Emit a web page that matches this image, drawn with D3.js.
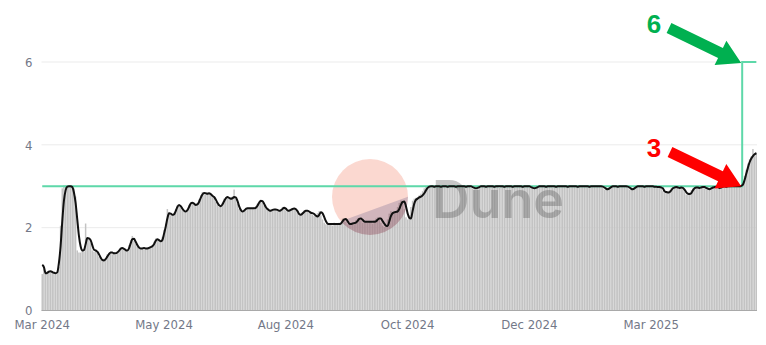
<!DOCTYPE html>
<html>
<head>
<meta charset="utf-8">
<script src="https://cdn.jsdelivr.net/npm/d3@7"></script>
<style>
  body { margin: 0; background: #fff; }
  svg { display: block; }
  .axis text { font-family: "DejaVu Sans Condensed", "Liberation Sans Narrow", sans-serif; fill: #737888; }
</style>
</head>
<body>
<svg id="chart" width="766" height="345"></svg>
<script>
// first day of the series (daily data)
const startDate = "2024-03-13";
// day the blob target moves from 3 to 6
const targetChangeDate = "2025-05-07";
const targetValues = [3, 6];
const yTicks = [0, 2, 4, 6];
const xTickEvery = 73; // label every n-th day, like the source axis

// daily average (bars)
const dailyBlobs = [
  0.88,1.00,0.90,0.95,0.96,0.94,0.95,0.90,0.88,0.90,
  1.05,2.05,2.95,3.02,3.02,3.00,3.01,3.00,3.01,2.95,
  2.75,1.45,1.40,1.40,1.45,1.42,2.10,1.72,1.75,1.62,
  1.45,1.42,1.47,1.40,1.30,1.22,1.20,1.25,1.25,1.36,
  1.38,1.42,1.36,1.40,1.35,1.43,1.47,1.52,1.49,1.48,
  1.44,1.47,1.58,1.70,1.80,1.68,1.60,1.55,1.50,1.48,
  1.52,1.50,1.49,1.52,1.50,1.56,1.58,1.66,1.74,1.70,
  1.68,1.66,1.78,1.95,2.10,2.45,2.38,2.30,2.33,2.36,
  2.45,2.55,2.52,2.48,2.42,2.38,2.40,2.45,2.55,2.62,
  2.58,2.55,2.52,2.60,2.68,2.78,2.86,2.84,2.80,2.85,
  2.82,2.78,2.75,2.70,2.62,2.55,2.50,2.55,2.60,2.70,
  2.74,2.72,2.70,2.72,2.75,2.92,2.70,2.58,2.45,2.40,
  2.38,2.44,2.48,2.46,2.48,2.46,2.45,2.50,2.52,2.58,
  2.64,2.66,2.60,2.54,2.46,2.42,2.40,2.44,2.45,2.42,
  2.45,2.40,2.42,2.45,2.50,2.46,2.42,2.40,2.44,2.46,
  2.44,2.48,2.42,2.36,2.30,2.34,2.38,2.42,2.40,2.38,
  2.36,2.34,2.32,2.28,2.26,2.35,2.40,2.30,2.20,2.12,
  2.08,2.10,2.08,2.10,2.05,2.12,2.08,2.10,2.12,2.14,
  2.22,2.20,2.14,2.08,2.10,2.12,2.10,2.14,2.18,2.22,
  2.24,2.18,2.12,2.15,2.16,2.12,2.15,2.14,2.10,2.18,
  2.22,2.25,2.20,2.12,2.05,2.02,2.06,2.20,2.34,2.40,
  2.38,2.36,2.40,2.50,2.60,2.66,2.60,2.45,2.25,2.20,
  2.30,2.50,2.65,2.70,2.72,2.74,2.78,2.82,2.88,2.95,
  3.00,3.01,3.00,3.00,2.98,3.00,3.00,3.01,3.00,3.00,
  3.00,3.00,2.98,3.00,3.00,3.01,3.00,2.99,3.00,3.00,
  3.00,2.97,3.00,3.00,3.00,3.00,3.01,2.96,2.94,2.95,
  2.97,2.99,3.00,3.00,3.00,2.98,3.00,3.00,3.00,3.00,
  2.99,3.00,3.00,3.00,2.96,3.00,3.00,3.00,3.00,3.00,
  3.00,2.98,3.00,3.00,3.00,3.00,3.01,3.00,3.00,3.00,
  3.00,3.00,2.97,2.95,2.94,2.97,2.99,3.00,3.00,3.00,
  3.00,2.98,3.00,3.00,3.00,3.00,2.97,3.00,3.00,3.00,
  3.00,3.00,3.00,3.01,2.98,3.00,3.00,3.00,3.00,3.00,
  2.98,3.00,3.00,3.00,3.00,3.00,3.00,2.98,3.00,3.00,
  3.00,3.00,3.00,3.00,3.00,2.98,2.96,2.92,2.93,2.95,
  2.97,3.00,3.00,3.00,2.98,3.00,3.00,3.00,3.00,3.00,
  2.99,2.96,2.92,2.93,2.95,2.98,3.00,3.00,3.00,3.00,
  3.00,3.00,3.00,3.00,3.00,3.00,2.98,3.00,2.98,2.97,
  2.98,2.94,2.88,2.84,2.85,2.88,2.90,2.95,2.97,2.98,
  2.97,2.96,2.97,2.96,2.93,2.88,2.80,2.82,2.85,2.90,
  2.95,2.97,2.98,2.96,2.97,2.98,2.97,2.95,2.93,2.92,
  2.95,2.97,2.98,3.00,2.98,2.96,2.98,3.00,3.00,3.00,
  3.00,3.00,3.00,3.00,3.00,3.00,3.00,3.00,3.00,3.02,
  3.10,3.25,3.40,3.55,3.65,3.72,3.90,3.78,3.82
];

// smoothed average (black line)
const avgBlobs = [
  1.10,1.05,0.90,0.91,0.94,0.95,0.93,0.91,0.90,0.92,
  1.15,1.55,2.15,2.65,2.90,2.99,3.00,3.00,2.98,2.85,
  2.60,2.20,1.80,1.55,1.45,1.46,1.60,1.75,1.74,1.70,
  1.58,1.47,1.45,1.42,1.36,1.28,1.22,1.21,1.24,1.30,
  1.36,1.40,1.40,1.38,1.38,1.40,1.44,1.49,1.51,1.49,
  1.46,1.45,1.50,1.62,1.72,1.73,1.66,1.58,1.52,1.50,
  1.50,1.51,1.50,1.50,1.51,1.53,1.55,1.60,1.68,1.72,
  1.70,1.67,1.70,1.85,2.02,2.22,2.35,2.34,2.31,2.32,
  2.40,2.50,2.55,2.52,2.46,2.41,2.39,2.42,2.50,2.58,
  2.60,2.58,2.55,2.56,2.62,2.72,2.80,2.84,2.83,2.82,
  2.83,2.81,2.77,2.74,2.68,2.60,2.54,2.52,2.56,2.64,
  2.71,2.74,2.72,2.70,2.71,2.74,2.73,2.65,2.52,2.43,
  2.39,2.41,2.45,2.47,2.47,2.47,2.47,2.47,2.48,2.53,
  2.60,2.65,2.64,2.58,2.50,2.45,2.42,2.41,2.43,2.44,
  2.44,2.43,2.41,2.42,2.45,2.48,2.46,2.42,2.41,2.43,
  2.45,2.46,2.45,2.40,2.33,2.31,2.34,2.38,2.41,2.41,
  2.39,2.36,2.35,2.33,2.29,2.27,2.31,2.37,2.35,2.26,
  2.16,2.10,2.09,2.09,2.09,2.09,2.09,2.09,2.09,2.10,
  2.15,2.20,2.21,2.16,2.10,2.09,2.10,2.11,2.12,2.16,
  2.21,2.22,2.19,2.15,2.14,2.14,2.14,2.14,2.14,2.14,
  2.15,2.19,2.22,2.22,2.16,2.10,2.05,2.04,2.15,2.28,
  2.35,2.37,2.38,2.39,2.45,2.55,2.62,2.63,2.52,2.35,
  2.24,2.22,2.40,2.58,2.67,2.70,2.73,2.75,2.78,2.83,
  2.90,2.96,2.99,3.00,3.00,2.99,3.00,3.00,3.00,2.99,
  3.00,3.00,3.00,2.99,3.00,3.00,3.00,3.00,2.99,3.00,
  3.00,3.00,3.00,3.00,2.99,3.00,3.00,3.00,2.98,2.96,
  2.95,2.96,2.98,3.00,3.00,3.00,2.99,3.00,3.00,3.00,
  3.00,2.99,3.00,3.00,3.00,3.00,3.00,2.99,3.00,3.00,
  3.00,3.00,2.99,3.00,3.00,3.00,3.00,3.00,2.99,3.00,
  3.00,3.00,3.00,2.98,2.96,2.95,2.96,2.98,3.00,3.00,
  3.00,3.00,2.99,3.00,3.00,3.00,3.00,3.00,2.99,3.00,
  3.00,3.00,3.00,3.00,3.00,2.99,3.00,3.00,3.00,3.00,
  3.00,2.99,3.00,3.00,3.00,3.00,3.00,3.00,2.99,3.00,
  3.00,3.00,3.00,3.00,3.00,3.00,2.99,2.97,2.94,2.93,
  2.95,2.98,3.00,3.00,3.00,2.99,3.00,3.00,3.00,3.00,
  3.00,2.99,2.97,2.94,2.93,2.95,2.98,3.00,3.00,3.00,
  3.00,2.99,3.00,3.00,3.00,3.00,3.00,2.99,2.99,2.98,
  2.98,2.97,2.95,2.88,2.86,2.85,2.86,2.90,2.95,2.97,
  2.98,2.97,2.96,2.97,2.96,2.92,2.86,2.82,2.81,2.83,
  2.90,2.95,2.97,2.97,2.96,2.97,2.98,2.98,2.96,2.94,
  2.93,2.95,2.97,2.98,2.99,2.98,2.96,2.97,2.99,3.00,
  2.99,3.00,3.00,3.00,3.00,3.00,3.00,3.00,3.00,3.01,
  3.04,3.15,3.30,3.45,3.58,3.67,3.73,3.77,3.80
];

const parse = d3.timeParse("%Y-%m-%d");
const fmt = d3.timeFormat("%b %Y");
const day0 = parse(startDate);
const dates = dailyBlobs.map((d, i) => d3.timeDay.offset(day0, i));
const changeIdx = d3.timeDay.count(day0, parse(targetChangeDate));

const data = dates.map((d, i) => ({ i, date: d, bar: dailyBlobs[i], avg: avgBlobs[i] }));

// target series: 3 until the change day, then 6
const target = [
  { i: 0, v: targetValues[0] },
  { i: changeIdx, v: targetValues[1] },
  { i: data.length - 1, v: targetValues[1] }
];

const svg = d3.select("#chart");
const margin = { left: 41.5, right: 9, top: 20, bottom: 35 };
const width = 766, height = 345;

const x = d3.scaleBand()
  .domain(d3.range(data.length))
  .range([margin.left, width - margin.right])
  .paddingInner(0.12);

const y = d3.scaleLinear()
  .domain([0, 6])
  .range([310.5, 62]);

const cx = i => x(i) + x.bandwidth() / 2;

// grid
svg.append("g")
  .selectAll("line")
  .data(yTicks.filter(d => d > 0))
  .join("line")
  .attr("x1", margin.left).attr("x2", width - margin.right)
  .attr("y1", d => y(d)).attr("y2", d => y(d))
  .attr("stroke", "#ebebeb");

// bars
svg.append("g")
  .selectAll("rect")
  .data(data)
  .join("rect")
  .attr("x", d => x(d.i))
  .attr("width", x.bandwidth())
  .attr("y", d => y(d.bar))
  .attr("height", d => y(0) - y(d.bar))
  .attr("fill", "#c3c3c3");

// baseline
svg.append("line")
  .attr("x1", margin.left).attr("x2", width - margin.right)
  .attr("y1", y(0)).attr("y2", y(0))
  .attr("stroke", "#a9a9a9");

// watermark
const wm = svg.append("g").attr("class", "watermark");
svg.append("clipPath").attr("id", "logoClip")
  .append("circle").attr("cx", 370).attr("cy", 197).attr("r", 38);
wm.append("circle").attr("cx", 370).attr("cy", 197).attr("r", 38)
  .attr("fill", "#f06a4a").attr("opacity", 0.26);
wm.append("path")
  .attr("d", "M328,226 L410,196 L410,240 L328,240 Z")
  .attr("clip-path", "url(#logoClip)")
  .attr("fill", "#2c2c70").attr("opacity", 0.2);
wm.append("text")
  .attr("x", 432).attr("y", 218)
  .attr("font-family", "Inter, 'Noto Sans', sans-serif")
  .attr("font-weight", 600)
  .attr("font-size", 52)
  .attr("fill", "#444")
  .attr("opacity", 0.3)
  .text("Dune");

// axes
const leftAxis = d3.axisLeft(y).tickValues(yTicks).tickFormat(d3.format("d")).tickSize(0).tickPadding(9);
svg.append("g")
  .attr("class", "left axis")
  .attr("transform", `translate(${margin.left},0)`)
  .call(leftAxis)
  .call(g => g.select(".domain").remove())
  .selectAll("text").attr("font-size", 13);

const bottomAxis = d3.axisBottom(x)
  .tickValues(d3.range(0, data.length, xTickEvery))
  .tickFormat(i => fmt(dates[i]))
  .tickSize(0).tickPadding(9);
svg.append("g")
  .attr("class", "bottom axis")
  .attr("transform", `translate(0,${y(0)})`)
  .call(bottomAxis)
  .call(g => g.select(".domain").remove())
  .selectAll("text").attr("font-size", 13);

// target line
svg.append("path")
  .datum(target)
  .attr("fill", "none")
  .attr("stroke", "#5ed8a9")
  .attr("stroke-width", 2)
  .attr("d", d3.line()
    .x(d => d.i === changeIdx ? x(d.i) : cx(d.i))
    .y(d => y(d.v))
    .curve(d3.curveStepAfter));

// average line
svg.append("path")
  .datum(data)
  .attr("fill", "none")
  .attr("stroke", "#111")
  .attr("stroke-width", 2)
  .attr("stroke-linejoin", "round")
  .attr("d", d3.line().x(d => cx(d.i)).y(d => y(d.avg)).curve(d3.curveMonotoneX));

// annotation arrows
function arrow(x0, y0, x1, y1, w, hw, hl) {
  const dx = x1 - x0, dy = y1 - y0, L = Math.hypot(dx, dy);
  const ux = dx / L, uy = dy / L, nx = -uy, ny = ux;
  const bx = x1 - ux * hl, by = y1 - uy * hl;
  const p = [
    [x0 + nx * w / 2, y0 + ny * w / 2],
    [bx + nx * w / 2, by + ny * w / 2],
    [bx + nx * hw / 2, by + ny * hw / 2],
    [x1, y1],
    [bx - nx * hw / 2, by - ny * hw / 2],
    [bx - nx * w / 2, by - ny * w / 2],
    [x0 - nx * w / 2, y0 - ny * w / 2]
  ];
  return "M" + p.map(q => q.join(",")).join("L") + "Z";
}

const tipX = x(changeIdx) - 1;
svg.append("path")
  .attr("d", arrow(669, 28, tipX, y(targetValues[1]) + 1, 11, 27, 23))
  .attr("fill", "#00b050");
svg.append("path")
  .attr("d", arrow(670, 152, tipX, y(targetValues[0]), 11, 27, 23))
  .attr("fill", "#ff0000");

svg.append("text")
  .attr("x", 654).attr("y", 33)
  .attr("text-anchor", "middle")
  .attr("font-family", "'Liberation Sans', Arial, sans-serif")
  .attr("font-weight", "bold")
  .attr("font-size", 26)
  .attr("fill", "#00b050")
  .text(targetValues[1]);

svg.append("text")
  .attr("x", 654).attr("y", 157)
  .attr("text-anchor", "middle")
  .attr("font-family", "'Liberation Sans', Arial, sans-serif")
  .attr("font-weight", "bold")
  .attr("font-size", 26)
  .attr("fill", "#ff0000")
  .text(targetValues[0]);
</script>
</body>
</html>
